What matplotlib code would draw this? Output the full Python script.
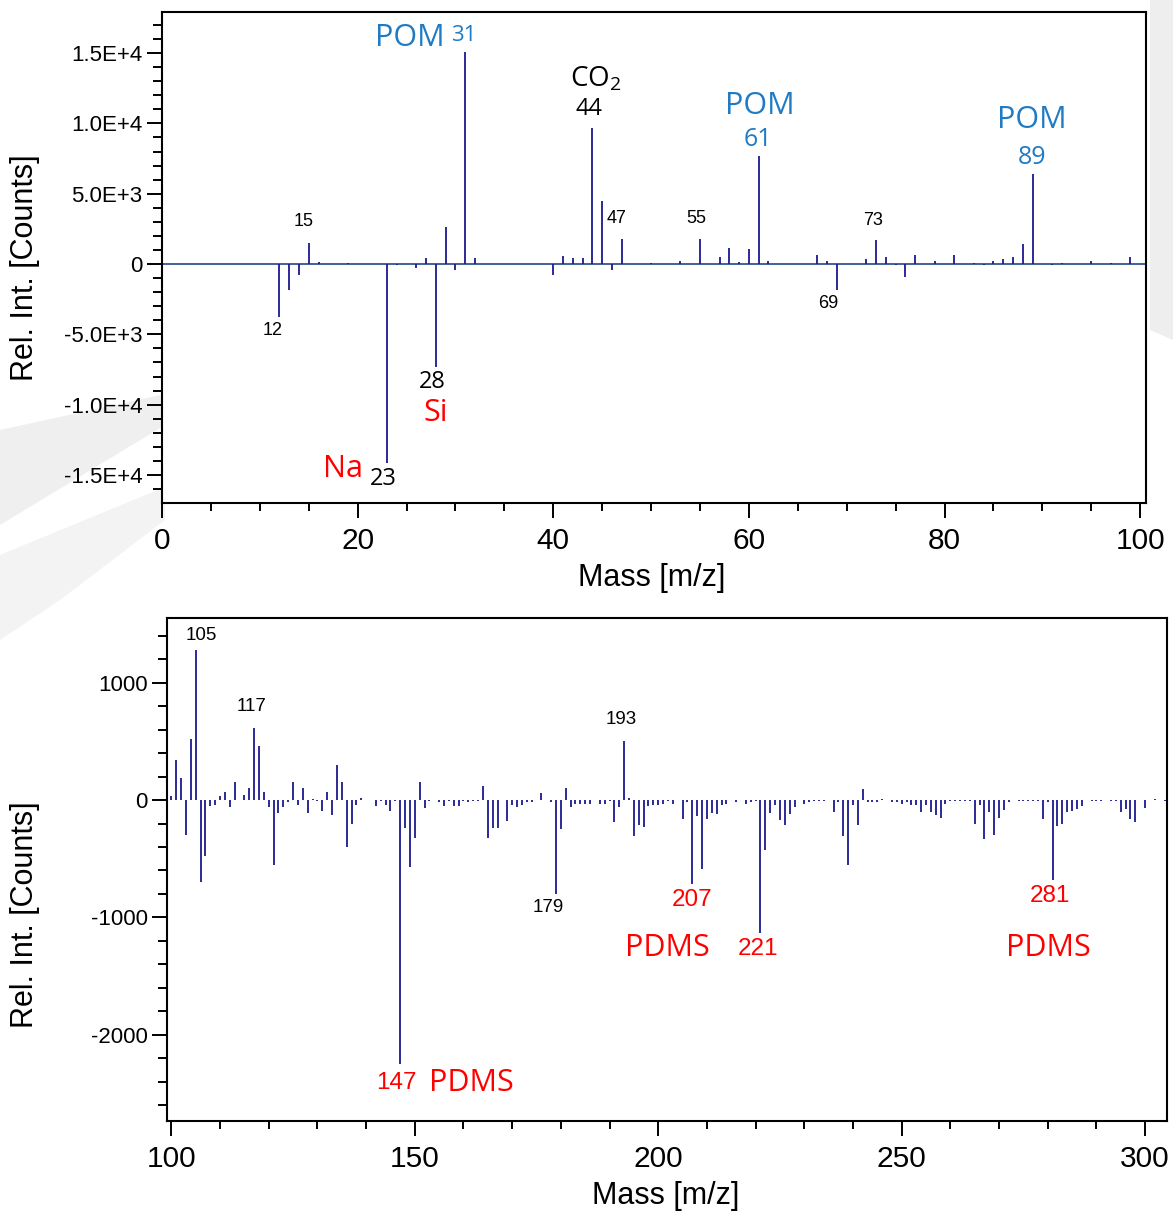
import matplotlib
matplotlib.use("Agg")
import matplotlib.pyplot as plt
from matplotlib.patches import Polygon
from matplotlib.ticker import MultipleLocator

plt.rcParams['font.family'] = ['Liberation Sans', 'DejaVu Sans']
plt.rcParams['mathtext.fontset'] = 'custom'
plt.rcParams['mathtext.rm'] = 'Open Sans'
plt.rcParams['axes.unicode_minus'] = False

# upper spectrum, m/z 0-100 (positive / negative ions)
top_mass = [12, 13, 14, 15, 16, 19, 23, 24, 26, 27, 28, 29, 30, 31, 32,
            40, 41, 42, 43, 44, 45, 46, 47, 50, 53, 55, 57, 58, 59, 60, 61, 62,
            67, 68, 69, 72, 73, 74, 75, 76, 77, 79, 81, 83, 84, 85, 86, 87, 88,
            89, 91, 92, 95, 97, 99]
top_int = [-3750, -1830, -760, 1500, 150, 100, -14150, -100, -300, 420, -7300, 2610, -450, 15100, 420,
           -800, 560, 420, 420, 9700, 4450, -450, 1760, 50, 200, 1750, 500, 1150, 150, 1070, 7650, 200,
           620, 200, -1870, 350, 1700, 480, -100, -950, 620, 250, 620, 50, -100, 250, 350, 480, 1420,
           6400, -100, 80, 250, 80, 500]

top_yticks = [-15000, -10000, -5000, 0, 5000, 10000, 15000]
top_yticklabels = ['-1.5E+4', '-1.0E+4', '-5.0E+3', '0', '5.0E+3', '1.0E+4', '1.5E+4']
top_xticks = [0, 20, 40, 60, 80, 100]

# lower spectrum, m/z 100-300
bot_mass = [100, 101, 102, 103, 104, 105, 106, 107, 108, 109, 110, 111, 112, 113, 115, 116, 117,
            118, 119, 120, 121, 122, 123, 124, 125, 126, 127, 128, 129, 130, 131, 132, 133, 134,
            135, 136, 137, 138, 139, 142, 143, 144, 145, 146, 147, 148, 149, 150, 151, 152, 153,
            155, 156, 157, 158, 159, 160, 161, 162, 163, 164, 165, 166, 167, 169, 170, 171, 172,
            173, 174, 176, 178, 179, 180, 181, 182, 183, 184, 185, 186, 188, 189, 190, 191, 192,
            193, 194, 195, 196, 197, 198, 199, 200, 201, 202, 203, 205, 206, 207, 208, 209, 210,
            211, 212, 213, 214, 216, 218, 219, 220, 221, 222, 223, 224, 225, 226, 227, 228, 230,
            231, 232, 233, 234, 236, 237, 238, 239, 240, 241, 242, 243, 244, 245, 246, 248, 249,
            250, 251, 252, 253, 254, 255, 256, 257, 258, 259, 260, 261, 262, 263, 264, 265, 266,
            267, 268, 269, 270, 271, 272, 274, 275, 276, 277, 278, 279, 280, 281, 282, 283, 284,
            285, 286, 287, 289, 290, 291, 293, 294, 295, 296, 297, 298, 300, 302, 304]
bot_int = [30, 340, 190, -300, 520, 1280, -700, -480, -50, -40, 30, 70, -60, 150, 40, 100, 610,
           460, 70, -60, -550, -110, -60, -20, 150, -40, 100, -110, 10, -10, -90, 70, -130, 300,
           150, -400, -200, -40, 20, -50, -10, -40, -90, -10, -2250, -240, -570, -320, 150, -70, -10,
           -20, -50, -10, -50, -50, -10, -20, -10, -10, 120, -320, -240, -240, -180, -40, -60, -40,
           -20, -20, 60, -20, -800, -250, 100, -60, -30, -30, -30, -30, -30, -30, -10, -185, -60,
           500, 20, -310, -215, -230, -50, -40, -40, -30, -10, -30, -165, -20, -717, -140, -587, -165,
           -110, -115, -40, -30, -20, -30, -20, -10, -1135, -425, -110, -40, -170, -215, -115, -60, -30,
           -20, -10, -10, -10, -100, -20, -310, -550, -40, -215, 90, -20, -20, -20, 10, -20, -20,
           -30, -20, -40, -40, -100, -40, -100, -130, -150, -30, -10, -10, -10, -10, -10, -200, -40,
           -330, -100, -295, -150, -85, -20, -10, -10, -10, -10, -10, -165, -20, -680, -225, -205, -105,
           -90, -80, -50, -10, -10, -10, -10, -10, -100, -80, -160, -185, -70, 10, -10]

bot_yticks = [-2000, -1000, 0, 1000]
bot_xticks = [100, 150, 200, 250, 300]

navy = '#1a1a8e'
blue = '#1f7bc4'
red = '#ff0000'
words = ['Open Sans', 'DejaVu Sans']
arial = ['Liberation Sans', 'DejaVu Sans']

# peak labels: text, m/z, intensity, colour, size, font
top_labels = [
    ("POM", 25.3, 16070, blue, 22, words), ("31", 30.8, 16280, blue, 16, words),
    ("CO$_2$", 44.3, 13150, 'black', 20, words), ("44", 43.7, 11020, 'black', 17, words),
    ("15", 14.5, 2990, 'black', 13, arial), ("47", 46.5, 3270, 'black', 13, arial),
    ("55", 54.6, 3270, 'black', 13, arial), ("POM", 61.1, 11230, blue, 22, words),
    ("61", 60.9, 8820, blue, 18, words), ("73", 72.7, 3130, 'black', 13, arial),
    ("POM", 88.9, 10240, blue, 22, words), ("89", 89.0, 7540, blue, 18, words),
    ("69", 68.1, -2840, 'black', 13, arial), ("12", 11.3, -4690, 'black', 13, arial),
    ("28", 27.6, -8390, 'black', 17, words), ("Si", 28.0, -10590, red, 22, words),
    ("Na", 18.5, -14580, red, 22, words), ("23", 22.6, -15290, 'black', 17, words),
]
bot_labels = [
    ("105", 106.1, 1396, 'black', 13.5, arial), ("117", 116.5, 800, 'black', 13.5, arial),
    ("193", 192.4, 689, 'black', 13.5, arial), ("179", 177.4, -911, 'black', 13.5, arial),
    ("207", 207.0, -851, red, 17.5, arial), ("221", 220.5, -1268, red, 17.5, arial),
    ("PDMS", 201.8, -1260, red, 22, words), ("281", 280.5, -817, red, 17.5, arial),
    ("PDMS", 280.1, -1260, red, 22, words), ("147", 146.3, -2408, red, 17.5, arial),
    ("PDMS", 161.7, -2408, red, 22, words),
]

W, H = 1173, 1213
fig = plt.figure(figsize=(W / 100, H / 100), dpi=100)

def px(pts):
    return [(x / W, 1 - y / H) for x, y in pts]

# faint grey swooshes in the background
for pts, c in [([(0, 430), (170, 393), (330, 393), (170, 422), (0, 525)], '#efefef'),
               ([(0, 555), (165, 487), (165, 520), (60, 600), (0, 640)], '#f3f3f3'),
               ([(1150, 0), (1173, 0), (1173, 340), (1150, 330)], '#eeeeee')]:
    fig.patches.append(Polygon(px(pts), closed=True, transform=fig.transFigure,
                               facecolor=c, edgecolor='none', zorder=-5))

ax1 = fig.add_axes([162 / W, 1 - 503 / H, 984 / W, 491 / H])
ax2 = fig.add_axes([167 / W, 1 - 1121 / H, 1000 / W, 503 / H])

ax1.axhline(0, color='#34558f', lw=1.3, zorder=1)
ax1.vlines(top_mass, 0, top_int, color=navy, lw=1.3, zorder=2)
ax2.vlines(bot_mass, 0, bot_int, color=navy, lw=1.3, zorder=2)

ax1.set_xlim(0, 100.6)
ax1.set_ylim(-16990, 17920)
ax1.set_xticks(top_xticks)
ax1.xaxis.set_minor_locator(MultipleLocator(5))
ax1.set_yticks(top_yticks)
ax1.set_yticklabels(top_yticklabels)
ax1.yaxis.set_minor_locator(MultipleLocator(1000))

ax2.set_xlim(99.1, 304.5)
ax2.set_ylim(-2732, 1549)
ax2.set_xticks(bot_xticks)
ax2.xaxis.set_minor_locator(MultipleLocator(10))
ax2.set_yticks(bot_yticks)
ax2.yaxis.set_minor_locator(MultipleLocator(200))

for ax, labels in [(ax1, top_labels), (ax2, bot_labels)]:
    ax.set_facecolor('white')
    for s in ax.spines.values():
        s.set_linewidth(1.5)
    ax.tick_params(axis='x', which='major', length=11, width=1.4, labelsize=21.5, pad=6)
    ax.tick_params(axis='x', which='minor', length=6, width=1.4)
    ax.tick_params(axis='y', which='major', length=11, width=1.4, labelsize=16, pad=3)
    ax.tick_params(axis='y', which='minor', length=6.5, width=1.4)
    ax.set_xlabel('Mass [m/z]', fontsize=22)
    ax.set_ylabel('Rel. Int. [Counts]', fontsize=22)
    ax.xaxis.label.set_va('center')
    ax.yaxis.label.set_va('center')
    for t, x, y, c, s, fam in labels:
        ax.text(x, y, t, color=c, fontsize=s, family=fam, ha='center', va='center')

ax1.xaxis.set_label_coords(0.498, -0.153)
ax1.yaxis.set_label_coords(-0.139, 0.479)
ax2.xaxis.set_label_coords(0.499, -0.149)
ax2.yaxis.set_label_coords(-0.142, 0.41)

fig.savefig('out.png', dpi=100)
